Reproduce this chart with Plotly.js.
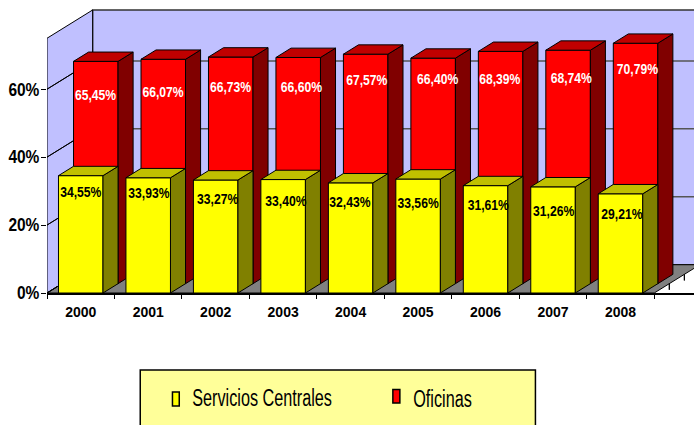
<!DOCTYPE html>
<html>
<head>
<meta charset="utf-8">
<script src="https://cdn.plot.ly/plotly-3.0.1.min.js"></script>
<style>html,body{margin:0;padding:0;background:#fff;overflow:hidden}#chart{width:694px;height:425px}</style>
</head>
<body>
<div id="chart"></div>
<script>
// ---- data ----
const years = ["2000","2001","2002","2003","2004","2005","2006","2007","2008"];
const servicios = [34.55,33.93,33.27,33.40,32.43,33.56,31.61,31.26,29.21];
const oficinas  = [65.45,66.07,66.73,66.60,67.57,66.40,68.39,68.74,70.79];
// where each data label sits, in axis units (category position, height in %)
const serviciosLabelX  = [0.50,1.51,2.53,3.54,4.49,5.50,6.54,7.51,8.52];
const serviciosLabelAt = [29.5,29.0,27.35,26.65,26.55,26.25,25.4,23.75,23.0];
const oficinasLabelX   = [0.72,1.72,2.72,3.77,4.74,5.79,6.71,7.77,8.75];
const oficinasLabelAt  = [57.8,58.7,60.2,60.4,62.2,62.65,62.65,62.95,65.6];
const yTicks = [0,20,40,60];
const seriesNames = ["Servicios Centrales","Oficinas"];

// ---- 3D projection, in axis units ----
const W=694,H=425, L=47.3, ZERO=293.3, TOP=8;
const catPx=67.44, pctPx=3.4;
const xMax=(W-L)/catPx, yMax=(ZERO-TOP)/pctPx;
const DX=45.6/catPx, DY=28.3/pctPx;   // full depth of the box
const WALLTOP=75, BARW=0.66;
const P=(x,y,d)=>[x+DX*d,y+DY*d];
function poly(pts){const xs=[],ys=[];pts.forEach(p=>{xs.push(p[0]);ys.push(p[1]);});xs.push(pts[0][0]);ys.push(pts[0][1]);return {x:xs,y:ys};}
function joined(list){const x=[],y=[];list.forEach(g=>{x.push(...g.x,null);y.push(...g.y,null);});return {x,y};}
function faces(vals,d0,d1){
  const side=[],top=[];
  vals.forEach((v,i)=>{
    const a=i+.5-BARW/2,b=i+.5+BARW/2;
    side.push(poly([P(b,0,d0),P(b,v,d0),P(b,v,d1),P(b,0,d1)]));
    top.push(poly([P(a,v,d0),P(b,v,d0),P(b,v,d1),P(a,v,d1)]));
  });
  return {side:joined(side),top:joined(top)};
}
const fmt=v=>v.toFixed(2).replace('.',',')+'%';
const poly3=(g,fill,ax,ay,w,c)=>({type:'scatter',mode:'lines',x:g.x,y:g.y,fill:'toself',fillcolor:fill,
  line:{color:c||'#000',width:w===undefined?1:w},xaxis:ax,yaxis:ay,hoverinfo:'skip',showlegend:false});
const lines=(g,c,ax,ay,w)=>({type:'scatter',mode:'lines',x:g.x,y:g.y,line:{color:c,width:w||1},xaxis:ax,yaxis:ay,hoverinfo:'skip',showlegend:false});

const Y0=0, YD=0.33, RD0=0.33, RD1=0.66;
const yF=faces(servicios,Y0,YD), rF=faces(oficinas,RD0,RD1);
const redBase=P(0,0,RD0)[1], redShift=P(0,0,RD0)[0];
const cx=years.map((_,i)=>i+.5);

const traces=[];
// walls and floor
traces.push(poly3(poly([P(0,0,1),P(xMax+1,0,1),P(xMax+1,WALLTOP,1),P(0,WALLTOP,1)]),'#C0C0FF','x','y',1.5,'#333'));
traces.push(poly3(poly([P(0,0,0),P(0,WALLTOP,0),P(0,WALLTOP,1),P(0,0,1)]),'#C0C0FF','x','y',1,'#000'));
traces.push(poly3(poly([P(0,0,0),P(9,0,0),P(9,0,1),P(0,0,1)]),'#808080','x','y',1,'#000'));
// grid on back wall and left wall
traces.push(lines(joined(yTicks.slice(1).map(t=>poly([P(0,t,1),P(xMax+1,t,1)]))),'#555','x','y',1.5));
traces.push(lines(joined(yTicks.map(t=>poly([P(0,t,0),P(0,t,1)]))),'#000','x','y',1));
// depth ticks on the floor's right edge
traces.push(lines(joined([0.33,0.66].map(d=>{const p=P(9,0,d);return poly([p,[p[0],p[1]-1.8]]);})),'#000','x','y',1));

// red layer
traces.push({type:'bar',x:cx.map(v=>v+redShift),y:oficinas,base:oficinas.map(()=>redBase),width:BARW,
  marker:{color:'#FF0000',line:{color:'#000',width:1}},xaxis:'x2',yaxis:'y2',name:seriesNames[1],showlegend:false,hoverinfo:'x+y'});
traces.push(poly3(rF.side,'#800000','x2','y2'));
traces.push(poly3(rF.top,'#C00000','x2','y2'));
// yellow layer
traces.push({type:'bar',x:cx,y:servicios,width:BARW,
  marker:{color:'#FFFF00',line:{color:'#000',width:1}},xaxis:'x3',yaxis:'y3',name:seriesNames[0],showlegend:false,hoverinfo:'x+y'});
traces.push(poly3(yF.side,'#808000','x3','y3'));
traces.push(poly3(yF.top,'#C0C000','x3','y3'));
// data labels
const SANS='"Liberation Sans",Arial,sans-serif';
traces.push({type:'scatter',mode:'text',x:serviciosLabelX,y:serviciosLabelAt,text:servicios.map(fmt),textposition:'middle center',
  textfont:{family:SANS,size:15,color:'#000',weight:700},xaxis:'x3',yaxis:'y3',showlegend:false,hoverinfo:'skip'});
traces.push({type:'scatter',mode:'text',x:oficinasLabelX,y:oficinasLabelAt,text:oficinas.map(fmt),textposition:'middle center',
  textfont:{family:SANS,size:15,color:'#fff',weight:700},xaxis:'x3',yaxis:'y3',showlegend:false,hoverinfo:'skip'});

// paper-coordinate helpers for the legend box
const plotW=W-L, plotH=ZERO-TOP;
const pxX=p=>(p-L)/plotW, pxY=p=>(ZERO-p)/plotH;
const rect=(x0,y0,x1,y1,fill,lw)=>({type:'rect',xref:'paper',yref:'paper',x0:pxX(x0),x1:pxX(x1),y0:pxY(y0),y1:pxY(y1),
  fillcolor:fill,line:{color:'#000',width:lw},layer:'above'});
const legText=(t,x,y)=>({xref:'paper',yref:'paper',x:pxX(x),y:pxY(y),xanchor:'center',yanchor:'middle',text:t,showarrow:false,
  font:{family:SANS,size:23,color:'#000'}});

const hidden={visible:false,fixedrange:true};
const layout={
  width:W,height:H,autosize:false,paper_bgcolor:'#fff',plot_bgcolor:'rgba(0,0,0,0)',
  margin:{l:L,r:0,t:TOP,b:H-ZERO,pad:0},barmode:'overlay',showlegend:false,
  xaxis:{range:[0,xMax],tickvals:cx,ticktext:years,ticks:'',showgrid:false,zeroline:false,showline:true,linecolor:'#000',linewidth:1.5,
    tickfont:{family:SANS,size:14,color:'#000',weight:700},ticklabelstandoff:6,fixedrange:true},
  yaxis:{range:[0,yMax],tickvals:yTicks,ticktext:yTicks.map(t=>t+'%'),ticks:'outside',ticklen:5,tickwidth:1,tickcolor:'#000',ticklabelstandoff:-2,
    showgrid:false,zeroline:false,showline:false,tickfont:{family:SANS,size:18,color:'#000',weight:700},fixedrange:true},
  xaxis2:{overlaying:'x',range:[0,xMax],tickvals:years.map((_,i)=>i).concat([9]),ticktext:years.map(()=>'').concat(['']),ticks:'outside',ticklen:5,tickwidth:1,tickcolor:'#000',
    showgrid:false,zeroline:false,showline:false,fixedrange:true,anchor:'y2'},
  yaxis2:Object.assign({overlaying:'y',range:[0,yMax],anchor:'x2'},hidden),
  xaxis3:Object.assign({overlaying:'x',range:[0,xMax],anchor:'y3'},hidden),
  yaxis3:Object.assign({overlaying:'y',range:[0,yMax],anchor:'x3'},hidden),
  shapes:[rect(140.5,370.5,535.5,440,'#FFFF99',1.5),rect(172.7,392.5,179.5,406.5,'#FFFF00',1.5),rect(393,390,400,403.5,'#FF0000',1.5)],
  annotations:[legText(seriesNames[0],262,398),legText(seriesNames[1],443,399)]
};
// the original uses a narrow face: squeeze the real text horizontally
function squeeze(sel,f){
  document.querySelectorAll(sel).forEach(t=>{
    const w=t.getComputedTextLength();
    if(w>0){t.setAttribute('textLength',(w*f).toFixed(1));t.setAttribute('lengthAdjust','spacingAndGlyphs');}
  });
}
Plotly.newPlot('chart',traces,layout,{staticPlot:true,displayModeBar:false}).then(()=>{
  squeeze('.textpoint text',0.81);
  squeeze('.ytick text',0.86);
  squeeze('.annotation-text',0.705);
});
</script>
</body>
</html>
